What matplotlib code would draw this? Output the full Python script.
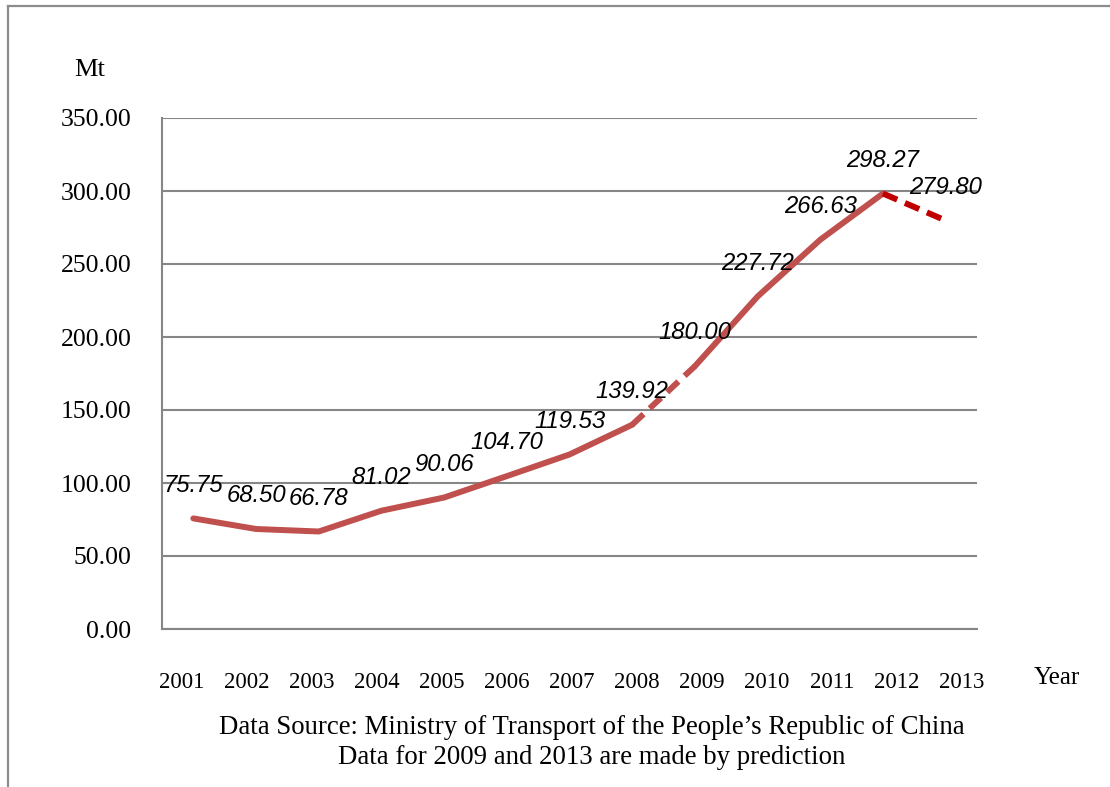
import numpy as np
import matplotlib
matplotlib.use("Agg")
import matplotlib.pyplot as plt
from matplotlib.lines import Line2D

years = ["2001", "2002", "2003", "2004", "2005", "2006", "2007",
         "2008", "2009", "2010", "2011", "2012", "2013"]
volume = [75.75, 68.50, 66.78, 81.02, 90.06, 104.70, 119.53,
          139.92, 180.00, 227.72, 266.63, 298.27, 279.80]

W, H = 1110, 787
fig = plt.figure(figsize=(W / 100, H / 100), dpi=100)
ax = fig.add_axes([162 / W, 1 - 629 / H, 815 / W, 511 / H])

serif = "Liberation Serif"
red = "#C0504D"
dark_red = "#C00000"
grid_col = "#868686"

x = np.arange(len(years))
v = np.array(volume)

# actual data solid, predicted years dashed
ax.plot(x[:8], v[:8], color=red, lw=4.3, solid_capstyle="round",
        solid_joinstyle="round", zorder=3)
ax.plot(x[7:9], v[7:9], color=red, lw=4.3, ls=(0, (2.6, 1.4)), zorder=3)
ax.plot(x[8:12], v[8:12], color=red, lw=4.3, solid_capstyle="round",
        solid_joinstyle="round", zorder=3)
ax.plot(x[11:13], v[11:13], color=dark_red, lw=4.3, ls=(0, (2.6, 1.4)), zorder=3)

for xi, val in zip(x, v):
    ax.annotate(f"{val:.2f}", (xi, val), xytext=(0, 24), textcoords="offset points",
                ha="center", va="center", fontsize=17.2, style="italic",
                family="Liberation Sans", color="black", zorder=4)

ax.set_xlim(-0.5, 12.5)
ax.set_ylim(0, 350)
ax.set_yticks(np.arange(0, 351, 50))
ax.set_yticklabels([f"{t:.2f}" for t in np.arange(0, 351, 50)],
                   fontsize=18.5, family=serif)
# year labels are spread slightly wider than the category slots
ax.set_xticks(np.linspace(-0.18, 12.26, len(years)))
ax.set_xticklabels(years, fontsize=16.5, family=serif)
ax.tick_params(axis="both", length=0)
ax.tick_params(axis="y", pad=22)
ax.tick_params(axis="x", pad=31)

ax.grid(axis="y", color=grid_col, lw=1.5)
ax.set_axisbelow(True)
for side in ["right", "top"]:
    ax.spines[side].set_visible(False)
for side in ["left", "bottom"]:
    ax.spines[side].set_color(grid_col)
    ax.spines[side].set_linewidth(1.5)

fig.text(90 / W, 1 - 70 / H, "Mt", fontsize=19, family=serif, ha="center", va="center")
fig.text(1057 / W, 1 - 678 / H, "Year", fontsize=18, family=serif, ha="center", va="center")
fig.text(592 / W, 1 - 728 / H,
         "Data Source: Ministry of Transport of the People\u2019s Republic of China",
         fontsize=19.3, family=serif, ha="center", va="center")
fig.text(592 / W, 1 - 758 / H, "Data for 2009 and 2013 are made by prediction",
         fontsize=19.3, family=serif, ha="center", va="center")

# outer frame (left and top edges)
fig.add_artist(Line2D([8 / W, 8 / W], [0, 1 - 6 / H], transform=fig.transFigure,
                      color="#8c8c8c", lw=1.6))
fig.add_artist(Line2D([8 / W, 1], [1 - 6 / H, 1 - 6 / H], transform=fig.transFigure,
                      color="#8c8c8c", lw=1.6))

fig.savefig("out.png", dpi=100)
